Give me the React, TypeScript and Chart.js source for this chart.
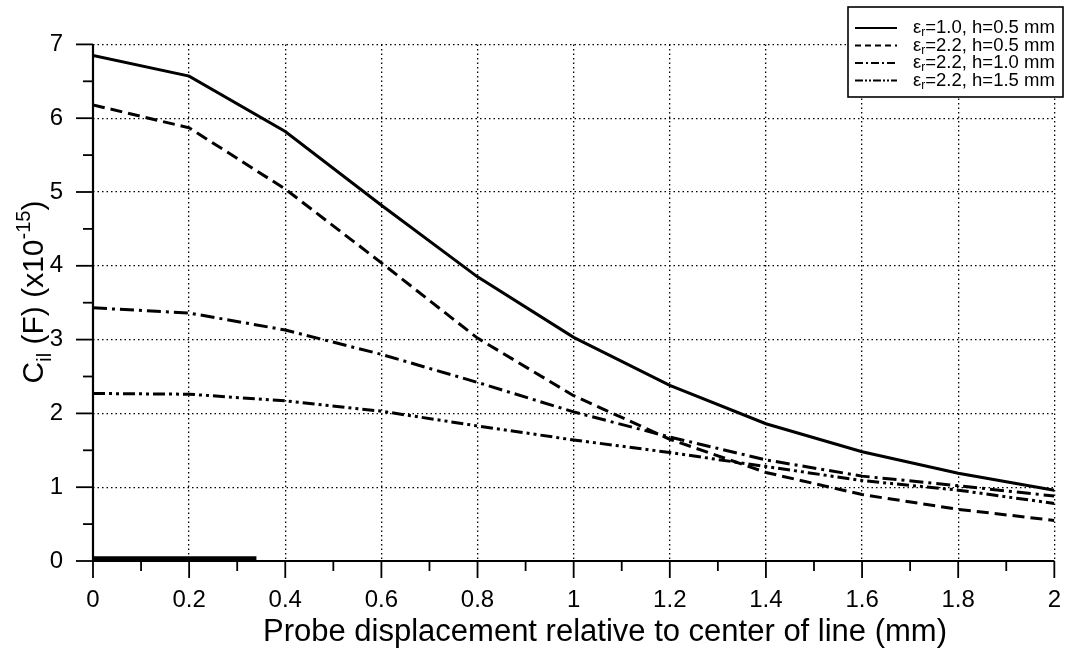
import React, { useEffect, useRef } from "react";
import { Chart, registerables } from "chart.js";

Chart.register(...registerables);

// ---- data ----
const X_VALUES = [0, 0.2, 0.4, 0.6, 0.8, 1.0, 1.2, 1.4, 1.6, 1.8, 2.0];
const ER10_H05 = [6.85, 6.57, 5.82, 4.82, 3.85, 3.03, 2.38, 1.86, 1.48, 1.19, 0.96];
const ER22_H05 = [6.18, 5.87, 5.04, 4.04, 3.02, 2.24, 1.65, 1.2, 0.9, 0.7, 0.55];
const ER22_H10 = [3.43, 3.36, 3.13, 2.8, 2.42, 2.02, 1.68, 1.37, 1.15, 1.02, 0.88];
const ER22_H15 = [2.27, 2.26, 2.17, 2.03, 1.83, 1.64, 1.47, 1.28, 1.09, 0.96, 0.78];
const BAR_X = [0, 0.34];
const BAR_Y = [0.03, 0.03];
const LEGEND_SUFFIX = ["=1.0, h=0.5 mm", "=2.2, h=0.5 mm", "=2.2, h=1.0 mm", "=2.2, h=1.5 mm"];
const X_TITLE = "Probe displacement relative to center of line (mm)";

// ---- styles ----
const FONT = "'Liberation Sans', Arial, Helvetica, sans-serif";
const DASHES: number[][] = [[], [12, 6], [14, 5, 3, 5], [12, 4, 3, 4, 3, 4]];
const LEGEND_DASHES: number[][] = [[], [6, 4], [8, 3, 2, 3], [8, 2, 2, 2, 2, 2]];

const toPoints = (ys: number[]) => ys.map((y, i) => ({ x: X_VALUES[i], y }));

const decorPlugin = {
  id: "decor",
  afterDraw(chart: any) {
    const ctx: CanvasRenderingContext2D = chart.ctx;
    const xs = chart.scales.x;
    const ys = chart.scales.y;
    const { left, right, top, bottom } = chart.chartArea;
    ctx.save();
    ctx.strokeStyle = "#000";
    ctx.fillStyle = "#000";
    ctx.setLineDash([]);
    // axis lines
    ctx.lineWidth = 2.2;
    ctx.beginPath();
    ctx.moveTo(left, top);
    ctx.lineTo(left, bottom);
    ctx.lineTo(right, bottom);
    ctx.stroke();
    // ticks
    ctx.lineWidth = 1.8;
    for (let i = 0; i <= 20; i++) {
      const px = xs.getPixelForValue(i * 0.1);
      const len = i % 2 === 0 ? 17 : 10;
      ctx.beginPath();
      ctx.moveTo(px, bottom);
      ctx.lineTo(px, bottom + len);
      ctx.stroke();
    }
    for (let i = 0; i <= 14; i++) {
      const py = ys.getPixelForValue(i * 0.5);
      const len = i % 2 === 0 ? 17 : 10;
      ctx.beginPath();
      ctx.moveTo(left - len, py);
      ctx.lineTo(left, py);
      ctx.stroke();
    }
    // x title
    ctx.font = `31px ${FONT}`;
    ctx.textAlign = "center";
    ctx.textBaseline = "alphabetic";
    ctx.fillText(X_TITLE, 605, 641);

    // y title with sub/superscripts, rotated
    ctx.save();
    ctx.translate(43, 292);
    ctx.rotate(-Math.PI / 2);
    const big = `30px ${FONT}`;
    const small = `20px ${FONT}`;
    const parts: [string, string, number][] = [
      ["C", big, 0],
      ["il", small, 8],
      [" (F) (x10", big, 0],
      ["-15", small, -13],
      [")", big, 0],
    ];
    let total = 0;
    for (const [t, f] of parts) {
      ctx.font = f;
      total += ctx.measureText(t).width;
    }
    let cx = -total / 2;
    ctx.textAlign = "left";
    for (const [t, f, dy] of parts) {
      ctx.font = f;
      ctx.fillText(t, cx, dy);
      cx += ctx.measureText(t).width;
    }
    ctx.restore();

    // legend
    const bx = 848, by = 7, bw = 215, bh = 90;
    ctx.fillStyle = "#fff";
    ctx.fillRect(bx, by, bw, bh);
    ctx.strokeStyle = "#000";
    ctx.lineWidth = 1.6;
    ctx.strokeRect(bx, by, bw, bh);
    ctx.fillStyle = "#000";
    const rowY = [28, 45.5, 63, 80.5];
    for (let i = 0; i < 4; i++) {
      const y = rowY[i];
      ctx.setLineDash(LEGEND_DASHES[i]);
      ctx.lineWidth = 2;
      ctx.beginPath();
      ctx.moveTo(855, y);
      ctx.lineTo(897, y);
      ctx.stroke();
      ctx.setLineDash([]);
      ctx.textBaseline = "middle";
      ctx.textAlign = "left";
      let tx = 913;
      ctx.font = `18.5px ${FONT}`;
      ctx.fillText("\u03b5", tx, y);
      tx += ctx.measureText("\u03b5").width;
      ctx.font = `12px ${FONT}`;
      ctx.fillText("r", tx, y + 5);
      tx += ctx.measureText("r").width;
      ctx.font = `18.5px ${FONT}`;
      ctx.fillText(LEGEND_SUFFIX[i], tx, y);
    }
    ctx.restore();
  },
};

export default function App() {
  const ref = useRef<HTMLCanvasElement | null>(null);
  useEffect(() => {
    document.body.style.margin = "0";
    const canvas = ref.current;
    if (!canvas) return;
    const series = [ER10_H05, ER22_H05, ER22_H10, ER22_H15];
    const datasets: any[] = series.map((s, i) => ({
      label: "\u03b5r" + LEGEND_SUFFIX[i],
      data: toPoints(s),
      borderColor: "#000",
      backgroundColor: "#000",
      borderWidth: 3,
      borderDash: DASHES[i],
      pointRadius: 0,
      tension: 0,
      fill: false,
    }));
    datasets.push({
      label: "bar",
      data: BAR_X.map((x, i) => ({ x, y: BAR_Y[i] })),
      borderColor: "#000",
      borderWidth: 5,
      pointRadius: 0,
      borderCapStyle: "butt",
      fill: false,
    });
    const chart = new Chart(canvas, {
      type: "line",
      data: { datasets },
      options: {
        animation: false,
        responsive: false,
        maintainAspectRatio: false,
        layout: { padding: { top: 13, right: 16, left: 0, bottom: 0 } },
        plugins: { legend: { display: false }, tooltip: { enabled: false }, title: { display: false } },
        scales: {
          x: {
            type: "linear",
            min: 0,
            max: 2,
            afterFit: (s: any) => {
              s.height = 89;
            },
            ticks: {
              stepSize: 0.2,
              color: "#000",
              font: { family: FONT, size: 24 },
              padding: 25,
              maxRotation: 0,
              autoSkip: false,
              callback: (v: any) => String(Number(Number(v).toFixed(1))),
            },
            grid: { color: "#000", lineWidth: 1.3, drawTicks: false },
            border: { display: false, dash: [1.5, 3] },
          },
          y: {
            type: "linear",
            min: 0,
            max: 7,
            afterFit: (s: any) => {
              s.width = 93;
            },
            ticks: {
              stepSize: 1,
              color: "#000",
              font: { family: FONT, size: 24 },
              padding: 30,
              callback: (v: any) => String(v),
            },
            grid: { color: "#000", lineWidth: 1.3, drawTicks: false },
            border: { display: false, dash: [1.5, 3] },
          },
        },
      },
      plugins: [decorPlugin],
    });
    return () => chart.destroy();
  }, []);
  return (
    <div style={{ width: 1086, height: 650, background: "#fff" }}>
      <canvas ref={ref} width={1086} height={650} style={{ display: "block" }} />
    </div>
  );
}
